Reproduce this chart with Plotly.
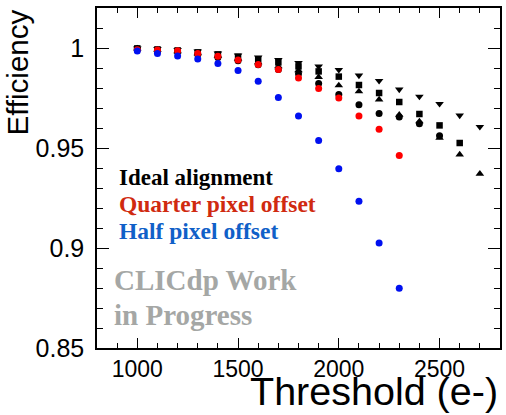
import plotly.graph_objects as go

# Pixel-threshold scan points (electrons)
threshold = [1000, 1100, 1200, 1300, 1400, 1500, 1600, 1700, 1800,
             1900, 2000, 2100, 2200, 2300, 2400, 2500, 2600, 2700]

# Ideal alignment: four sensor samples, one marker style each
ideal_circle = [0.9996, 0.9988, 0.9981, 0.9968, 0.9953, 0.9936, 0.9916, 0.9893,
                0.9871, 0.9822, 0.9768, 0.9716, 0.9673, 0.9655, 0.9621, 0.9561]
ideal_square = [0.9998, 0.9993, 0.9988, 0.9978, 0.9968, 0.9956, 0.9943, 0.9928,
                0.9908, 0.9883, 0.9857, 0.9815, 0.9775, 0.9730, 0.9670, 0.9613,
                0.9525]
ideal_tri_up = [0.9997, 0.9991, 0.9983, 0.9973, 0.9961, 0.9946, 0.9928, 0.9908,
                0.9888, 0.9855, 0.9813, 0.9783, 0.9742, 0.9666, 0.9633, 0.9551,
                0.9467, 0.9371]
ideal_tri_down = [0.9998, 0.9996, 0.9991, 0.9983, 0.9973, 0.9963, 0.9953, 0.9941,
                  0.9925, 0.9908, 0.9891, 0.9863, 0.9836, 0.9793, 0.9757, 0.9721,
                  0.9663, 0.9606]

# Misaligned telescope planes
quarter_offset = [0.9991, 0.9990, 0.9986, 0.9972, 0.9959, 0.9940, 0.9917,
                  0.9892, 0.9850, 0.9797, 0.9750, 0.9660, 0.9594, 0.9462]
half_offset = [0.9985, 0.9972, 0.9960, 0.9945, 0.9923, 0.9887, 0.9834,
               0.9752, 0.9660, 0.9537, 0.9396, 0.9234, 0.9025, 0.8799]

x_ticks = [1000, 1500, 2000, 2500]
y_ticks = [0.85, 0.9, 0.95, 1.0]
y_tick_text = ["0.85", "0.9", "0.95", "1"]

fig = go.Figure()

black_sets = [
    (ideal_circle, "circle", 7),
    (ideal_square, "square", 6.5),
    (ideal_tri_up, "triangle-up", 7.5),
    (ideal_tri_down, "triangle-down", 7.5),
]
for vals, sym, size in black_sets:
    fig.add_trace(go.Scatter(
        x=threshold[:len(vals)], y=vals, mode="markers",
        marker=dict(symbol=sym, size=size, color="black", line=dict(width=0)),
        showlegend=False, hoverinfo="skip"))

fig.add_trace(go.Scatter(
    x=threshold[:len(quarter_offset)], y=quarter_offset, mode="markers",
    marker=dict(symbol="circle", size=7, color="#ff0000", line=dict(width=0)),
    showlegend=False, hoverinfo="skip"))
fig.add_trace(go.Scatter(
    x=threshold[:len(half_offset)], y=half_offset, mode="markers",
    marker=dict(symbol="circle", size=7, color="#0010f0", line=dict(width=0)),
    showlegend=False, hoverinfo="skip"))

serif = "Liberation Serif"
sans = "Liberation Sans, Arial, Helvetica"

labels = [
    ("Ideal alignment", "#000000", 898, 0.9355, 23),
    ("Quarter pixel offset", "#d02a10", 898, 0.9222, 23.5),
    ("Half pixel offset", "#1060c8", 898, 0.9087, 23.5),
    ("CLICdp Work", "#a5a7a5", 876, 0.8838, 29),
    ("in Progress", "#a5a7a5", 876, 0.8666, 29),
]
for text, color, xv, yv, fs in labels:
    fig.add_annotation(
        x=xv, y=yv, xref="x", yref="y", text="<b>%s</b>" % text,
        showarrow=False, xanchor="left", yanchor="middle",
        font=dict(family=serif, size=fs, color=color))

# Axis titles placed at the axis ends
fig.add_annotation(
    x=1.0, y=0, xref="paper", yref="paper", text="Threshold (e-)",
    showarrow=False, xanchor="right", yanchor="top", yshift=-19,
    font=dict(family=sans, size=39.5, color="black"))
fig.add_annotation(
    x=0, y=1.0, xref="paper", yref="paper", text="Efficiency",
    showarrow=False, textangle=-90, xanchor="right", yanchor="top",
    xshift=-62, font=dict(family=sans, size=29.5, color="black"))

axis_common = dict(
    showline=True, linecolor="black", linewidth=1.5, mirror="allticks",
    ticks="inside", tickcolor="black", tickwidth=1.2,
    showgrid=False, zeroline=False,
)

fig.update_xaxes(
    range=[800, 2800], tickvals=x_ticks, ticklen=10,
    tickfont=dict(family=sans, size=23, color="black"),
    ticklabelstandoff=0,
    minor=dict(dtick=100, tick0=0, ticklen=5, ticks="inside",
               tickcolor="black", tickwidth=1.2, showgrid=False),
    **axis_common)
fig.update_yaxes(
    range=[0.85, 1.02], tickvals=y_ticks, ticktext=y_tick_text, ticklen=12,
    tickfont=dict(family=sans, size=25, color="black"),
    ticklabelstandoff=6,
    minor=dict(dtick=0.01, tick0=0.85, ticklen=6, ticks="inside",
               tickcolor="black", tickwidth=1.2, showgrid=False),
    **axis_common)

fig.update_layout(
    width=506, height=415,
    margin=dict(l=97, r=4, t=8, b=67, pad=0),
    paper_bgcolor="white", plot_bgcolor="white",
    showlegend=False,
)

fig.write_html("out.html")
